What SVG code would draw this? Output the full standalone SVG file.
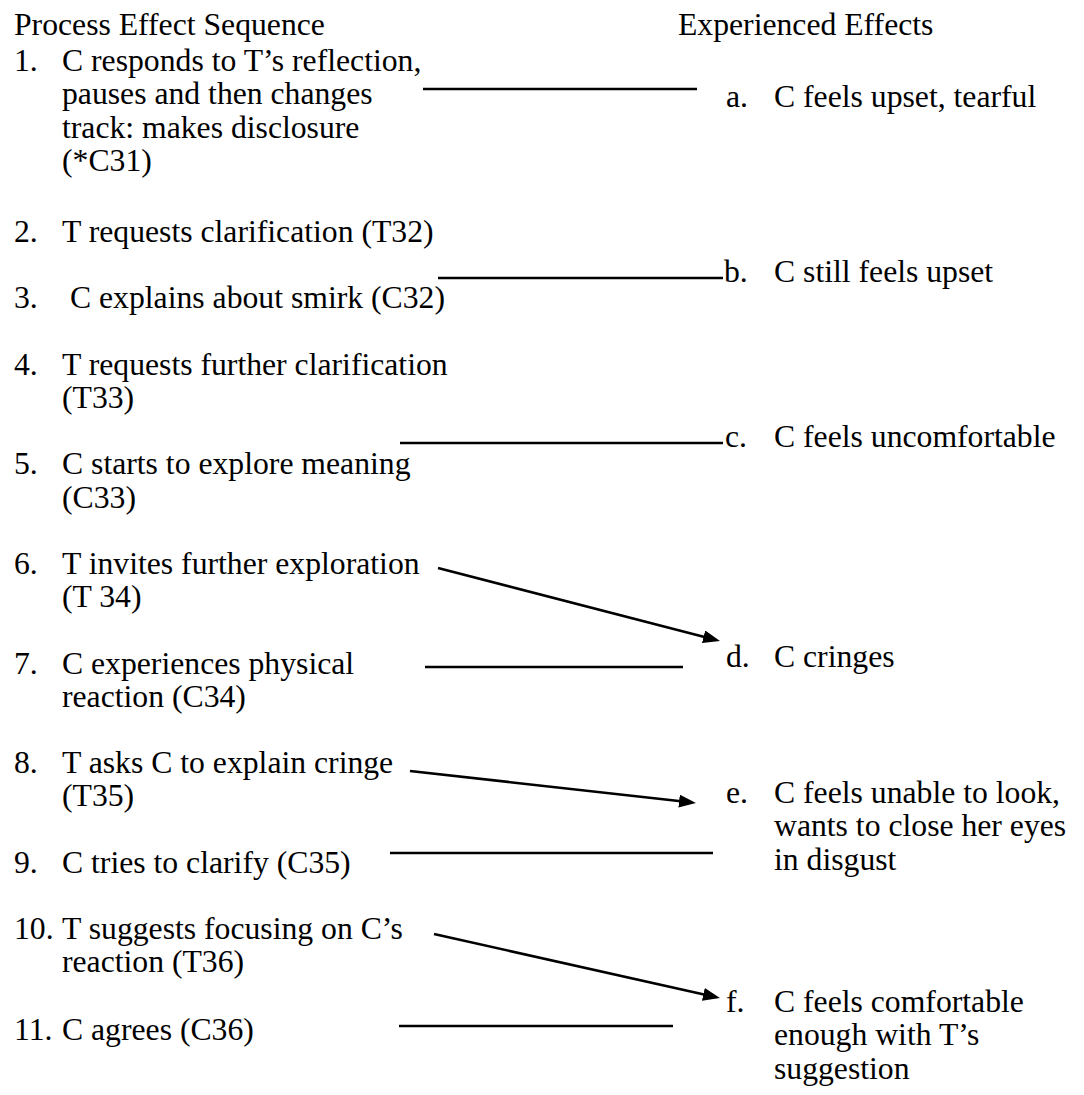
<svg xmlns="http://www.w3.org/2000/svg" width="1084" height="1095" viewBox="0 0 1084 1095">
  <defs>
    <style>
      text { font-family: "Liberation Serif", "Times New Roman", serif; font-size: 31.7px; fill: #000; }
      .link { stroke: #000; stroke-width: 2.6; fill: none; }
    </style>
    <marker id="arrow" viewBox="0 0 17 13" refX="11" refY="6.5" markerWidth="17" markerHeight="13" markerUnits="userSpaceOnUse" orient="auto">
      <path d="M0,0 L17,6.5 L0,13 z" fill="#000"/>
    </marker>
  </defs>
  <rect width="1084" height="1095" fill="#fff"/>

  <!-- column headings -->
  <g id="headings">
    <text x="14" y="35">Process Effect Sequence</text>
    <text x="678" y="35">Experienced Effects</text>
  </g>

  <!-- process steps -->
  <g id="step1">
    <text x="14" y="71">1.</text>
    <text x="62" y="71">C responds to T’s reflection,</text>
    <text x="62" y="104.4">pauses and then changes</text>
    <text x="62" y="137.8">track: makes disclosure</text>
    <text x="62" y="171.2">(*C31)</text>
  </g>
  <g id="step2">
    <text x="14" y="242">2.</text>
    <text x="62" y="242">T requests clarification (T32)</text>
  </g>
  <g id="step3">
    <text x="14" y="308.4">3.</text>
    <text x="70" y="308.4">C explains about smirk (C32)</text>
  </g>
  <g id="step4">
    <text x="14" y="374.8">4.</text>
    <text x="62" y="374.8">T requests further clarification</text>
    <text x="62" y="408">(T33)</text>
  </g>
  <g id="step5">
    <text x="14" y="474.4">5.</text>
    <text x="62" y="474.4">C starts to explore meaning</text>
    <text x="62" y="507.6">(C33)</text>
  </g>
  <g id="step6">
    <text x="14" y="574">6.</text>
    <text x="62" y="574">T invites further exploration</text>
    <text x="62" y="607.2">(T 34)</text>
  </g>
  <g id="step7">
    <text x="14" y="673.6">7.</text>
    <text x="62" y="673.6">C experiences physical</text>
    <text x="62" y="706.8">reaction (C34)</text>
  </g>
  <g id="step8">
    <text x="14" y="773.2">8.</text>
    <text x="62" y="773.2">T asks C to explain cringe</text>
    <text x="62" y="806.4">(T35)</text>
  </g>
  <g id="step9">
    <text x="14" y="872.8">9.</text>
    <text x="62" y="872.8">C tries to clarify (C35)</text>
  </g>
  <g id="step10">
    <text x="14" y="939.2">10.</text>
    <text x="62" y="939.2">T suggests focusing on C’s</text>
    <text x="62" y="972.4">reaction (T36)</text>
  </g>
  <g id="step11">
    <text x="14" y="1039.6">11.</text>
    <text x="62" y="1039.6">C agrees (C36)</text>
  </g>

  <!-- experienced effects -->
  <g id="effect-a">
    <text x="726" y="107">a.</text>
    <text x="774" y="107">C feels upset, tearful</text>
  </g>
  <g id="effect-b">
    <text x="724" y="282">b.</text>
    <text x="774" y="282">C still feels upset</text>
  </g>
  <g id="effect-c">
    <text x="725" y="447">c.</text>
    <text x="774" y="447">C feels uncomfortable</text>
  </g>
  <g id="effect-d">
    <text x="726" y="667">d.</text>
    <text x="774" y="667">C cringes</text>
  </g>
  <g id="effect-e">
    <text x="726" y="803">e.</text>
    <text x="774" y="803">C feels unable to look,</text>
    <text x="774" y="836.4">wants to close her eyes</text>
    <text x="774" y="869.8">in disgust</text>
  </g>
  <g id="effect-f">
    <text x="726" y="1012">f.</text>
    <text x="774" y="1012">C feels comfortable</text>
    <text x="774" y="1045.4">enough with T’s</text>
    <text x="774" y="1078.8">suggestion</text>
  </g>

  <!-- connectors -->
  <g id="connectors">
    <line class="link" x1="423" y1="89" x2="697" y2="89"/>
    <line class="link" x1="438" y1="278" x2="723" y2="278"/>
    <line class="link" x1="400" y1="443" x2="723" y2="443"/>
    <line class="link" x1="438" y1="568" x2="714.2" y2="639.5" marker-end="url(#arrow)"/>
    <line class="link" x1="425" y1="667" x2="683" y2="667"/>
    <line class="link" x1="410" y1="771" x2="690" y2="802.3" marker-end="url(#arrow)"/>
    <line class="link" x1="390" y1="853" x2="713" y2="853"/>
    <line class="link" x1="434" y1="934" x2="714.1" y2="996.7" marker-end="url(#arrow)"/>
    <line class="link" x1="399" y1="1026" x2="673" y2="1026"/>
  </g>
</svg>
